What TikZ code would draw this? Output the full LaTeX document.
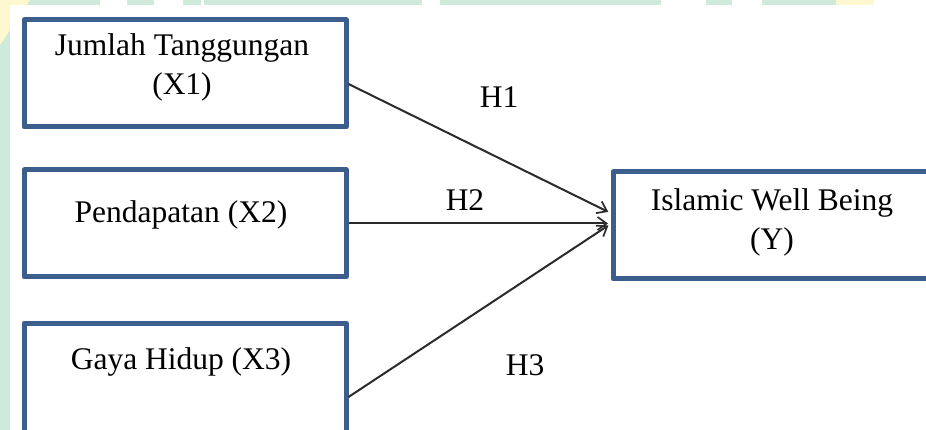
\documentclass[tikz,border=0pt]{standalone}
\usepackage{fontspec}
\setmainfont{Liberation Serif}
\usetikzlibrary{arrows.meta}
\definecolor{boxblue}{HTML}{3B5E8C}
\definecolor{bggreen}{HTML}{CDEADB}
\definecolor{bgyellow}{HTML}{FDF8CF}
\definecolor{linegray}{HTML}{2B2B2B}
\begin{document}
\begin{tikzpicture}[x=1pt,y=-1pt,
  varbox/.style={draw=boxblue, line width=5pt, line join=round, fill=white, inner sep=0pt, rectangle},
  lbl/.style={font=\fontsize{31.5}{39}\selectfont, align=center, inner sep=0pt, text=black},
  conn/.style={draw=linegray, line width=2pt, -{Straight Barb[length=9pt,width=13pt,line width=1.7pt]}, shorten >=2.5pt}]
\useasboundingbox (0,0) rectangle (926,430);
\clip (0,0) rectangle (926,430);
% background watermark remnants
\fill[bggreen] (0,0) rectangle (926,430);
\fill[bgyellow] (0,0) -- (30,0) -- (0,45) -- cycle;
\fill[bgyellow] (836,0) rectangle (874,6);
\fill[white] (874,0) rectangle (926,6);
\foreach \a/\b in {100/127,154/183,201/204,422/440,661/706,732/762}{
  \fill[white] (\a,0) rectangle (\b,6);
}
\fill[white] (10,5) rectangle (926,430);
% boxes
\node[varbox, minimum width=322pt, minimum height=107pt] (b1) at (185,73.5) {};
\node[varbox, minimum width=322pt, minimum height=107pt] (b2) at (185,223.5) {};
\node[varbox, minimum width=322pt, minimum height=109pt] (b3) at (185,377.5) {};
\node[varbox, minimum width=318pt, minimum height=107pt] (by) at (772,225.5) {};
% texts
\node[lbl] (t1) at (182,67) {Jumlah Tanggungan\\(X1)};
\node[lbl] (t2) at (181,215) {Pendapatan (X2)};
\node[lbl] (t3) at (181,362) {Gaya Hidup (X3)};
\node[lbl] (ty) at (772,222) {Islamic Well Being\\(Y)};
% connectors
\draw[conn] (b1.east |- 0,84) -- (by.west |- 0,213);
\draw[conn] (b2.east |- 0,223.5) -- (by.west |- 0,223.5);
\draw[conn] (b3.east |- 0,397) -- (by.west |- 0,224);
% hypothesis labels
\node[lbl] (h1) at (499,97) {H1};
\node[lbl] (h2) at (465,200) {H2};
\node[lbl] (h3) at (525,365) {H3};
\end{tikzpicture}
\end{document}
